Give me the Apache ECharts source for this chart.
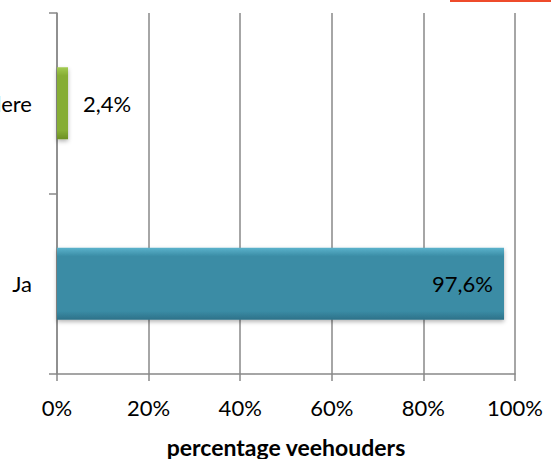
<!DOCTYPE html>
<html>
<head>
<meta charset="utf-8">
<script src="https://cdn.jsdelivr.net/npm/echarts@6/dist/echarts.min.js"></script>
<style>
  html, body { margin: 0; padding: 0; background: #fff; }
  #chart { width: 551px; height: 459px; }
</style>
</head>
<body>
<div id="chart"></div>
<script>
// data (bottom to top)
const categories = ['Ja', 'Andere']
const values = [97.6, 2.4]
const barColors = ['#3a8ca5', '#86ad34']
const barLight = ['#5cb3cc', '#a3cb52']
const barDark = ['#2d7088', '#6c8f25']
const xTicks = [0, 20, 40, 60, 80, 100]

const font = 'Lato, "Open Sans", sans-serif'
const gray = '#888888'

const chart = echarts.init(document.getElementById('chart'), null, { renderer: 'svg' })

chart.setOption({
  animation: false,
  grid: { left: 57, right: 36, top: 13, bottom: 85, containLabel: false, outerBoundsMode: 'none' },
  xAxis: {
    type: 'value',
    min: xTicks[0],
    max: xTicks[xTicks.length - 1],
    interval: 20,
    name: 'percentage veehouders',
    nameLocation: 'middle',
    nameGap: 61,
    nameTextStyle: { fontFamily: font, fontWeight: 'bold', fontSize: 23, color: '#000' },
    axisLine: { show: true, lineStyle: { color: gray, width: 1.5 } },
    axisTick: { show: true, length: 7, lineStyle: { color: gray, width: 1.5 } },
    axisLabel: {
      fontFamily: font, fontSize: 22, color: '#000', margin: 22,
      formatter: v => v + '%'
    },
    splitLine: { show: true, lineStyle: { color: gray, width: 1.5 } }
  },
  yAxis: {
    type: 'category',
    data: categories,
    axisLine: { show: true, lineStyle: { color: gray, width: 1.5 } },
    axisTick: { show: true, length: 8, inside: false, lineStyle: { color: gray, width: 1.5 } },
    axisLabel: { fontFamily: font, fontSize: 22, color: '#000', margin: 25 },
    splitLine: { show: false }
  },
  series: [{
    type: 'bar',
    barWidth: '40%',
    data: values.map((v, i) => ({
      value: v,
      itemStyle: {
        color: new echarts.graphic.LinearGradient(0, 0, 0, 1, [
          { offset: 0, color: barLight[i] },
          { offset: 0.12, color: barColors[i] },
          { offset: 0.88, color: barColors[i] },
          { offset: 1, color: barDark[i] }
        ]),
        shadowColor: 'rgba(0,0,0,0.3)',
        shadowBlur: 4,
        shadowOffsetY: 2
      },
      label: i === 0
        ? { show: true, position: 'insideRight', distance: 11 }
        : { show: true, position: 'right', distance: 15 }
    })),
    label: {
      fontFamily: font, fontSize: 22, color: '#000',
      formatter: p => p.value.toFixed(1).replace('.', ',') + '%'
    }
  }],
  graphic: [{
    type: 'rect',
    shape: { x: 450, y: 0, width: 101, height: 2 },
    style: { fill: '#ee4b2b' }
  }]
})
</script>
</body>
</html>
